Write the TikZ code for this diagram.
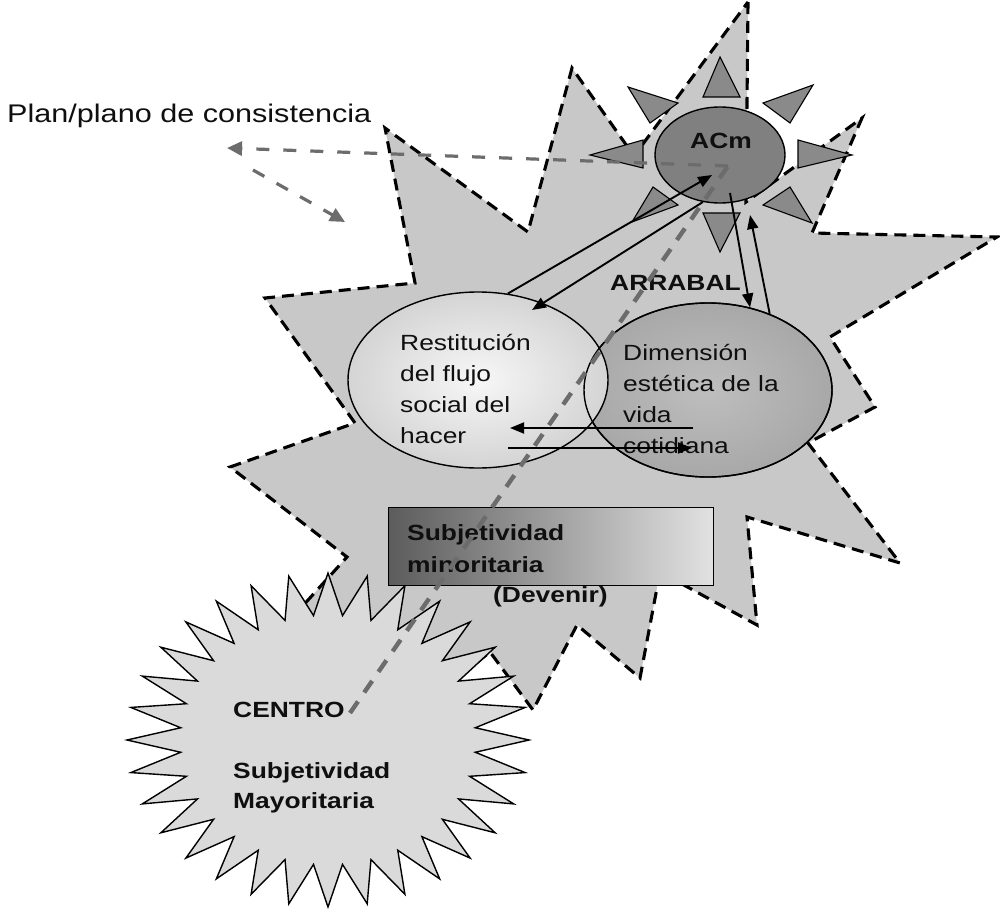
\documentclass[tikz,border=0pt]{standalone}
\usepackage{fontspec}
\setmainfont{Liberation Sans}[FakeStretch=1.2]
\usetikzlibrary{arrows.meta,shapes.geometric}
\definecolor{starfill}{RGB}{200,200,200}
\definecolor{centrofill}{RGB}{218,218,218}
\definecolor{leftin}{RGB}{247,247,247}
\definecolor{leftout}{RGB}{212,212,212}
\definecolor{rightin}{RGB}{190,190,190}
\definecolor{rightout}{RGB}{168,168,168}
\definecolor{acmfill}{RGB}{128,128,128}
\definecolor{trifill}{RGB}{138,138,138}
\definecolor{rectdark}{RGB}{92,92,92}
\definecolor{rectlight}{RGB}{226,226,226}
\definecolor{dashgray}{RGB}{108,108,108}
\definecolor{txt}{RGB}{15,15,15}
\newcommand\mylines[1]{\begin{tabular}[t]{@{}l@{}}#1\end{tabular}}
\begin{document}
\begin{tikzpicture}[x=1pt,y=-1pt,
  bigstar/.style={fill=starfill, draw=black, line width=3.1pt, dash pattern=on 12pt off 7pt},
  centrostar/.style={fill=centrofill, draw=black, line width=1.4pt, line join=miter},
  tri/.style={fill=trifill, draw=black, line width=1.1pt, line join=miter},
  blk/.style={draw=black, line width=1.9pt, -{Triangle[length=14pt,width=11pt]}},
  gline/.style={draw=dashgray, line width=4.4pt, dash pattern=on 14pt off 11pt},
  garrow/.style={draw=dashgray, line width=3.2pt, dash pattern=on 13pt off 14pt, -{Triangle[length=15pt,width=14pt]}},
  reg/.style={inner sep=0pt, anchor=base west, text=txt, font=\fontsize{22}{31}\selectfont},
  boldt/.style={inner sep=0pt, anchor=base west, text=txt, font=\fontsize{22}{32}\selectfont\bfseries},
]
\fill[white] (0,0) rectangle (1000,912);
\useasboundingbox (0,0) rectangle (1000,912);

% big dashed star (ARRABAL)
\path[bigstar] (748,2) -- (746,202) -- (862,118) -- (812,233) -- (997,237) -- (830,337)
  -- (875,407) -- (808,443) -- (900,563) -- (747,517) -- (757,625) -- (660,572)
  -- (640,678) -- (577,625) -- (533,710) -- (490,652) -- (430,700) -- (380,640)
  -- (290,620) -- (347,557) -- (230,467) -- (355,423) -- (265,298) -- (415,283)
  -- (385,128) -- (528,232) -- (572,68) -- (634,156) -- cycle;

% CENTRO star
\path[centrostar] plot[variable=\k, samples at={0,...,63}]
  ({328+ifthenelse(mod(\k,2)==0,201,148)*cos(\k*5.625)},
   {740+ifthenelse(mod(\k,2)==0,167,125)*sin(\k*5.625)}) -- cycle;

% ellipses
\node[ellipse, draw=black, line width=1.4pt, inner color=rightin, outer color=rightout,
      minimum width=248pt, minimum height=174pt] (dim) at (708,390) {};
\node[ellipse, draw=black, line width=1.4pt, inner color=leftin, outer color=leftout,
      minimum width=260pt, minimum height=176pt] (rest) at (478,380) {};
\draw[black, line width=1.4pt] (dim.center) ellipse [x radius=124, y radius=87];

% rectangle
\node[draw=black, line width=1.3pt, left color=rectdark, right color=rectlight,
      minimum width=325pt, minimum height=78pt, anchor=north west, inner sep=0pt] (subj) at (388,507) {};

% triangles around ACm
\path[tri] (720,57) -- (703,97) -- (740,97) -- cycle;
\path[tri] (813,85) -- (763,103) -- (790,123) -- cycle;
\path[tri] (852,155) -- (798,140) -- (798,168) -- cycle;
\path[tri] (812,223) -- (763,205) -- (790,187) -- cycle;
\path[tri] (720,252) -- (703,213) -- (740,213) -- cycle;
\path[tri] (632,222) -- (653,187) -- (678,205) -- cycle;
\path[tri] (590,155) -- (643,140) -- (643,168) -- cycle;
\path[tri] (628,87) -- (678,103) -- (650,123) -- cycle;

\node[ellipse, draw=black, line width=1.4pt, fill=acmfill,
      minimum width=130pt, minimum height=96pt] (acm) at (720,155) {};

% texts
\node[inner sep=0pt, anchor=base west, text=txt, font=\fontsize{25.5}{30}\selectfont] (plan) at (7,123) {Plan/plano de consistencia};
\node[boldt, font=\fontsize{22}{30}\selectfont\bfseries, anchor=base] (acmtxt) at (721,149) {ACm};
\node[boldt] (arrabal) at (610,290) {ARRABAL};
\node[reg] (resttxt) at (400,350) {\mylines{Restitución\\del flujo\\social del\\hacer}};
\node[reg] (dimtxt) at (623,360) {\mylines{Dimensión\\estética de la\\vida\\cotidiana}};
\node[boldt] (subjtxt) at (407,540) {\mylines{Subjetividad\\minoritaria}};
\node[boldt] (dev) at (493,602) {(Devenir)};
\node[boldt] (centro) at (233,717) {CENTRO};
\node[boldt, font=\fontsize{22}{30}\selectfont\bfseries] (mayor) at (233,778) {\mylines{Subjetividad\\Mayoritaria}};

% black arrows
\coordinate (aA) at (712,175);
\coordinate (bB) at (532,310);
\coordinate (cC) at (730,193);
\coordinate (dD) at (750,215);
\coordinate (h1s) at (693,428);
\coordinate (h1e) at (510,428);
\coordinate (h2s) at (508,448);
\coordinate (h2e) at (692,448);
\draw[blk] (rest.71) -- (aA);
\draw[blk] (acm.-110) -- (bB);
\draw[blk] (cC) -- (dim.63);
\draw[blk] (dim.51) -- (dD);
\draw[blk] (h1s) -- (h1e);
\draw[blk] (h2s) -- (h2e);

% gray dashed lines
\coordinate (g0) at (350,713);
\coordinate (g1) at (728,166);
\coordinate (p1) at (227,148);
\coordinate (p2s) at (253,170);
\coordinate (p2e) at (345,222);
\draw[gline] (g0) -- (g1);
\draw[garrow] (g1) -- (p1);
\draw[garrow] (p2s) -- (p2e);
\end{tikzpicture}
\end{document}
